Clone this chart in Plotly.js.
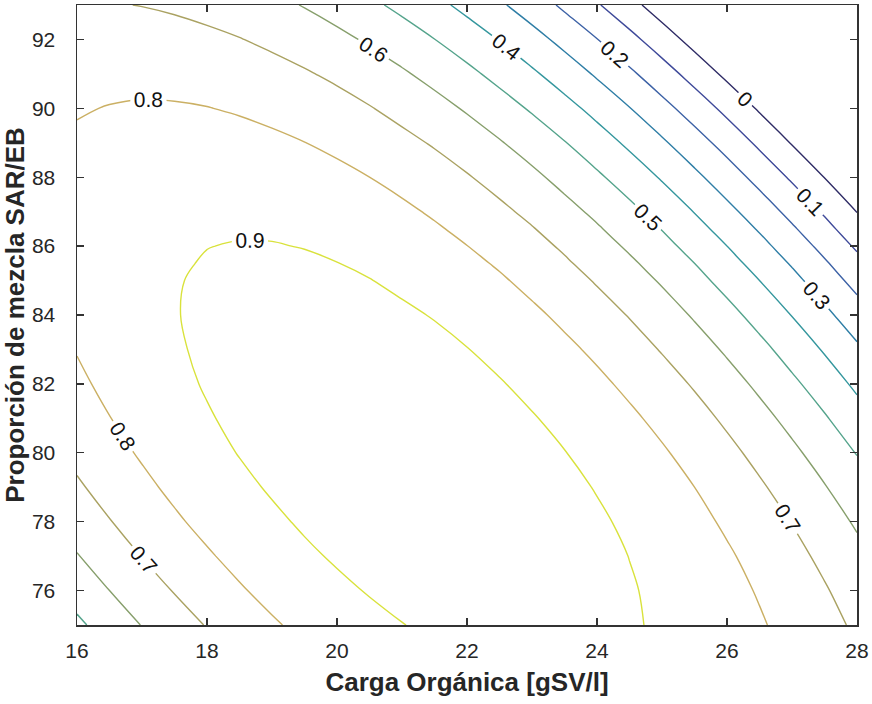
<!DOCTYPE html>
<html>
<head>
<meta charset="utf-8">
<script src="https://cdn.plot.ly/plotly-3.0.1.min.js"></script>
<style>
html,body{margin:0;padding:0;background:#fff;}
#chart{width:872px;height:704px;}
</style>
</head>
<body>
<div id="chart"></div>
<script>
// Carga Orgánica [gSV/l]
const xVals = [16,16.5,17,17.5,18,18.5,19,19.5,20,20.5,21,21.5,22,22.5,23,23.5,24,24.5,25,25.5,26,26.5,27,27.5,28];
// Proporción de mezcla SAR/EB
const yVals = [75,76,77,78,79,80,81,82,83,84,85,85.5,86,86.5,87,88,89,90,91,92,93];
// response values (rows follow yVals, columns follow xVals)
const zGrid = [
  [0.481,0.544,0.603,0.656,0.705,0.749,0.789,0.823,0.853,0.878,0.898,0.914,0.925,0.931,0.932,0.929,0.921,0.908,0.890,0.868,0.841,0.809,0.772,0.731,0.685],
  [0.541,0.600,0.655,0.705,0.750,0.791,0.827,0.858,0.884,0.905,0.922,0.934,0.941,0.944,0.942,0.935,0.923,0.906,0.885,0.859,0.828,0.793,0.753,0.708,0.658],
  [0.595,0.651,0.702,0.749,0.790,0.827,0.859,0.887,0.909,0.927,0.940,0.949,0.952,0.951,0.946,0.935,0.920,0.899,0.875,0.845,0.811,0.772,0.728,0.679,0.626],
  [0.644,0.696,0.744,0.787,0.825,0.858,0.886,0.910,0.929,0.944,0.953,0.958,0.958,0.953,0.944,0.930,0.911,0.887,0.858,0.825,0.787,0.745,0.697,0.645,0.588],
  [0.687,0.736,0.780,0.819,0.853,0.883,0.908,0.928,0.944,0.954,0.960,0.961,0.958,0.950,0.936,0.919,0.896,0.869,0.837,0.800,0.758,0.712,0.661,0.605,0.545],
  [0.725,0.770,0.810,0.846,0.876,0.903,0.924,0.940,0.952,0.959,0.962,0.959,0.952,0.940,0.924,0.902,0.876,0.845,0.810,0.769,0.724,0.674,0.619,0.560,0.496],
  [0.757,0.798,0.835,0.867,0.894,0.916,0.934,0.947,0.955,0.959,0.958,0.952,0.941,0.925,0.905,0.880,0.850,0.816,0.777,0.733,0.684,0.630,0.572,0.509,0.441],
  [0.783,0.821,0.854,0.882,0.906,0.925,0.939,0.948,0.953,0.953,0.948,0.939,0.924,0.905,0.881,0.853,0.819,0.781,0.738,0.691,0.638,0.581,0.519,0.453,0.381],
  [0.804,0.838,0.868,0.892,0.912,0.928,0.938,0.944,0.945,0.941,0.933,0.920,0.902,0.879,0.852,0.819,0.783,0.741,0.694,0.643,0.587,0.527,0.461,0.391,0.316],
  [0.819,0.850,0.876,0.897,0.913,0.925,0.932,0.934,0.932,0.924,0.912,0.896,0.874,0.848,0.817,0.781,0.740,0.695,0.645,0.590,0.531,0.466,0.397,0.323,0.245],
  [0.829,0.856,0.878,0.896,0.909,0.917,0.920,0.919,0.913,0.902,0.886,0.866,0.840,0.811,0.776,0.737,0.692,0.643,0.590,0.531,0.468,0.400,0.328,0.250,0.168],
  [0.832,0.857,0.877,0.893,0.904,0.911,0.912,0.909,0.901,0.888,0.871,0.849,0.822,0.790,0.754,0.712,0.666,0.616,0.560,0.500,0.435,0.365,0.291,0.212,0.128],
  [0.833,0.857,0.875,0.889,0.899,0.903,0.903,0.898,0.888,0.873,0.854,0.830,0.801,0.768,0.730,0.687,0.639,0.586,0.529,0.467,0.400,0.329,0.253,0.172,0.086],
  [0.833,0.855,0.872,0.884,0.891,0.894,0.892,0.885,0.874,0.857,0.836,0.810,0.780,0.745,0.705,0.660,0.610,0.556,0.497,0.433,0.364,0.291,0.213,0.130,0.043],
  [0.832,0.852,0.867,0.877,0.883,0.884,0.880,0.871,0.858,0.840,0.817,0.789,0.757,0.720,0.678,0.631,0.580,0.524,0.463,0.397,0.327,0.252,0.172,0.088,-0.002],
  [0.825,0.841,0.853,0.859,0.861,0.859,0.851,0.839,0.822,0.800,0.774,0.743,0.707,0.666,0.621,0.570,0.515,0.456,0.391,0.322,0.248,0.169,0.086,-0.002,-0.095],
  [0.812,0.825,0.833,0.836,0.834,0.828,0.817,0.801,0.781,0.755,0.725,0.691,0.651,0.607,0.558,0.504,0.445,0.382,0.314,0.241,0.164,0.081,-0.006,-0.098,-0.194],
  [0.794,0.803,0.808,0.807,0.802,0.792,0.777,0.758,0.734,0.705,0.671,0.633,0.590,0.542,0.489,0.432,0.370,0.303,0.231,0.155,0.074,-0.012,-0.103,-0.198,-0.299],
  [0.771,0.776,0.777,0.773,0.764,0.751,0.732,0.709,0.682,0.649,0.612,0.570,0.523,0.471,0.415,0.354,0.288,0.218,0.143,0.063,-0.022,-0.112,-0.206,-0.305,-0.409],
  [0.741,0.743,0.740,0.733,0.720,0.703,0.681,0.655,0.624,0.587,0.547,0.501,0.451,0.396,0.336,0.271,0.202,0.128,0.049,-0.035,-0.123,-0.216,-0.314,-0.417,-0.524],
  [0.707,0.705,0.698,0.687,0.671,0.651,0.625,0.595,0.560,0.520,0.476,0.427,0.373,0.314,0.251,0.182,0.109,0.032,-0.051,-0.138,-0.230,-0.327,-0.428,-0.534,-0.645]
];
// contour levels and their line colours
const levels = [0,0.1,0.2,0.3,0.4,0.5,0.6,0.7,0.8,0.9];
const levelColors = ['#2f2c66','#3f4a9a','#3d62a6','#2f7ea6','#35979e','#55a48c','#879f6c','#aaa262','#cbb064','#d9e23c'];
const xTicks = [16,18,20,22,24,26,28];
const yTicks = [76,78,80,82,84,86,88,90,92];

const colorscale = levels.map((lv, i) => [i / (levels.length - 1), levelColors[i]]);

const FONT = 'Liberation Sans, Arial, Helvetica, sans-serif';
const trace = {
  type: 'contour',
  x: xVals,
  y: yVals,
  z: zGrid,
  autocontour: false,
  contours: {
    start: levels[0],
    end: levels[levels.length - 1],
    size: 0.1,
    coloring: 'lines',
    showlabels: true,
    labelformat: '.1~f',
    labelfont: {family: FONT, size: 21, color: '#111'}
  },
  line: {width: 1.4, smoothing: 1},
  colorscale: colorscale,
  zmin: levels[0],
  zmax: levels[levels.length - 1],
  showscale: false,
  hoverinfo: 'skip'
};

const axisCommon = {
  showline: true,
  linecolor: '#333',
  linewidth: 1.5,
  mirror: 'ticks',
  ticks: 'inside',
  ticklen: 7,
  tickwidth: 1.3,
  tickcolor: '#333',
  showgrid: false,
  zeroline: false,
  tickfont: {family: FONT, size: 21, color: '#262626'}
};

const layout = {
  width: 872,
  height: 704,
  margin: {l: 77, r: 15, t: 5, b: 79},
  paper_bgcolor: '#fff',
  plot_bgcolor: '#fff',
  showlegend: false,
  xaxis: Object.assign({}, axisCommon, {
    range: [16, 28],
    tickvals: xTicks,
    ticktext: xTicks.map(String),
    ticklabelstandoff: 6,
    title: {text: '<b>Carga Orgánica [gSV/l]</b>', font: {family: FONT, size: 26, color: '#262626'}, standoff: 12}
  }),
  yaxis: Object.assign({}, axisCommon, {
    range: [75, 93],
    tickvals: yTicks,
    ticktext: yTicks.map(String),
    ticklabelstandoff: 16,
    title: {text: '<b>Proporción de mezcla SAR/EB</b>', font: {family: FONT, size: 26, color: '#262626'}, standoff: 1}
  })
};

Plotly.newPlot('chart', [trace], layout, {displayModeBar: false, staticPlot: true});
</script>
</body>
</html>
